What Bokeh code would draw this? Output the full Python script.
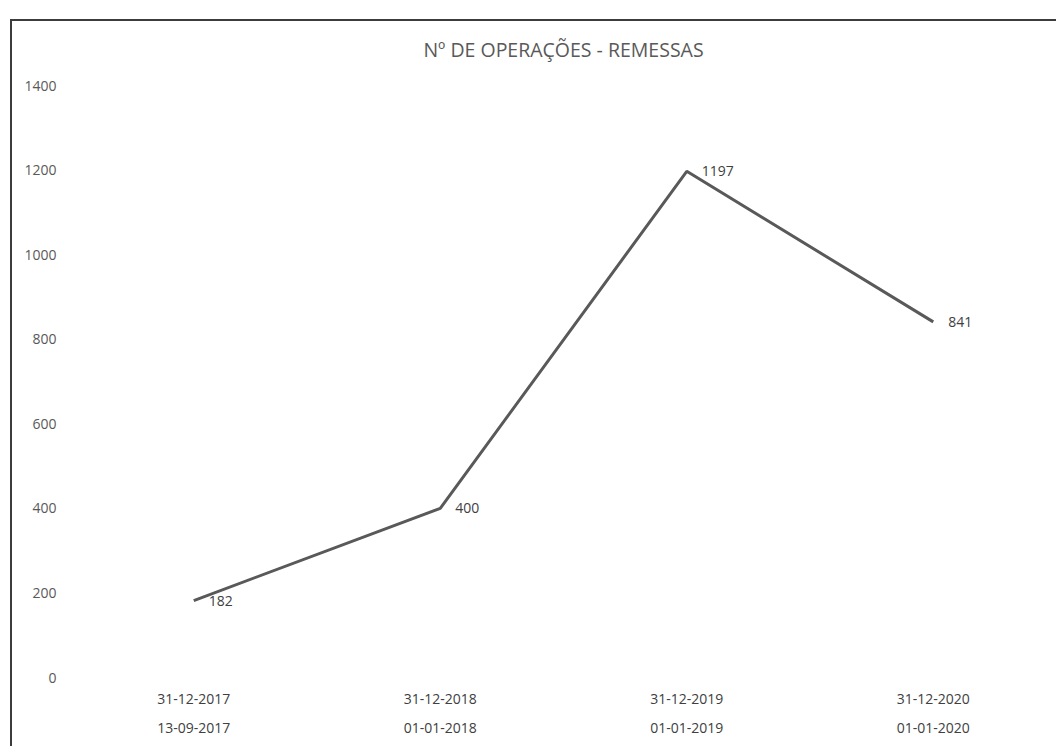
from bokeh.plotting import figure
from bokeh.models import LinearAxis, FixedTicker, Range1d, ColumnDataSource
from bokeh.embed import file_html
from bokeh.resources import INLINE
from bokeh.core.properties import value

# ---- data ----
title_text = "Nº DE OPERAÇÕES - REMESSAS"
labels_top = ["31-12-2017", "31-12-2018", "31-12-2019", "31-12-2020"]
labels_bottom = ["13-09-2017", "01-01-2018", "01-01-2019", "01-01-2020"]
operations = [182, 400, 1197, 841]
y_ticks = [0, 200, 400, 600, 800, 1000, 1200, 1400]

xs = list(range(len(operations)))
src = ColumnDataSource(dict(x=xs, y=operations, lab=[str(v) for v in operations]))

FONT = "Open Sans"
p = figure(width=1046, height=736, output_backend="svg", toolbar_location=None,
           x_range=Range1d(-0.5, len(xs) - 0.5), y_range=Range1d(0, y_ticks[-1]),
           min_border_left=60, min_border_right=0, min_border_top=75, min_border_bottom=69,
           x_axis_type=None)
# scanned frame lines (top and left) drawn behind a transparent canvas
line_img = "linear-gradient(#3c3c3c, #3c3c3c)"
p.styles = {"margin-top": "10px", "margin-left": "10px",
            "background": f"{line_img} 0px 9px / 100% 2px no-repeat, "
                          f"{line_img} 0px 9px / 2px 100% no-repeat"}
p.background_fill_alpha = 0
p.border_fill_alpha = 0
p.outline_line_color = None
p.xgrid.visible = False
p.ygrid.visible = False

p.title.text = title_text
p.title.align = "center"
p.title.offset = 5
p.title.text_font = FONT
p.title.text_font_size = "19.5px"
p.title.text_font_style = "normal"
p.title.text_color = "#595959"
p.title.standoff = 45

ya = p.yaxis[0]
ya.ticker = FixedTicker(ticks=y_ticks)
ya.axis_line_color = None
ya.major_tick_line_color = None
ya.minor_tick_line_color = None
ya.major_label_text_font = FONT
ya.major_label_text_font_size = "14px"
ya.major_label_text_color = "#595959"
ya.major_label_standoff = 8

def make_xaxis(labels, standoff):
    ax = LinearAxis(ticker=FixedTicker(ticks=xs),
                    major_label_overrides={i: t for i, t in zip(xs, labels)})
    ax.axis_line_color = None
    ax.major_tick_line_color = None
    ax.minor_tick_line_color = None
    ax.major_label_text_font = FONT
    ax.major_label_text_font_size = "14px"
    ax.major_label_text_color = "#404040"
    ax.major_label_standoff = standoff
    return ax

p.add_layout(make_xaxis(labels_top, 10), "below")
p.add_layout(make_xaxis(labels_bottom, 10), "below")

p.line("x", "y", source=src, line_color="#595959", line_width=3)
p.text("x", "y", text="lab", source=src, x_offset=15, text_baseline="middle",
       text_align="left", text_font=value(FONT), text_font_size="14px",
       text_color="#404040")

open("out.html", "w").write(file_html(p, INLINE))
